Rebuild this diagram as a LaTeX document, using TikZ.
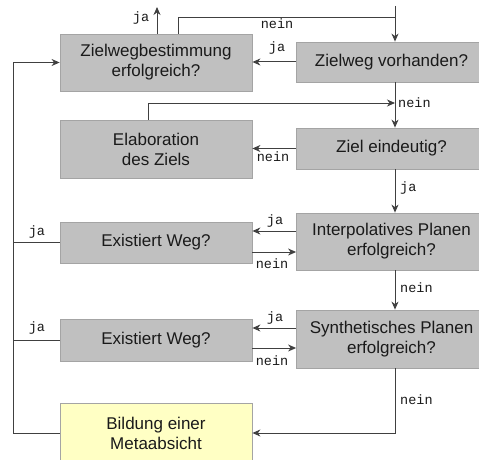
\documentclass[tikz,border=0pt]{standalone}
\usepackage{fontspec}
\setmainfont{Liberation Sans}
\newfontfamily\labelfont{Liberation Mono}
\usetikzlibrary{arrows.meta,calc}
\definecolor{boxgray}{HTML}{C0C0C0}
\definecolor{boxline}{HTML}{A4A4A4}
\definecolor{metayellow}{HTML}{FFFFC4}
\definecolor{wire}{HTML}{404040}
\definecolor{textcol}{HTML}{1A1A1A}

\begin{document}
\begin{tikzpicture}[x=1pt,y=-1pt,
  box/.style={draw=boxline, fill=boxgray, line width=0.8pt, align=center,
    inner sep=0pt, text=textcol, font=\fontsize{17}{20}\selectfont},
  leftbox/.style={box, minimum width=192pt},
  rightbox/.style={box, minimum width=190pt},
  wireline/.style={draw=wire, line width=1pt},
  arr/.style={wireline, -{Stealth[length=8pt,width=7pt,inset=2.5pt]}},
  lab/.style={font=\labelfont\fontsize{13.5}{14}\selectfont, text=textcol, inner sep=0pt}
]
\useasboundingbox (0,0) rectangle (479,460);

% boxes
\node[leftbox, minimum height=57pt] (A) at (156,62.5) {Zielwegbestimmung\\erfolgreich?};
\node[rightbox, minimum height=40pt] (B) at (391.5,62) {Zielweg vorhanden?};
\node[leftbox, minimum height=58pt] (C) at (156,149) {Elaboration\\des Ziels};
\node[rightbox, minimum height=41pt] (D) at (391.5,148.5) {Ziel eindeutig?};
\node[rightbox, minimum height=57pt] (E) at (391.5,241.5) {Interpolatives Planen\\erfolgreich?};
\node[leftbox, minimum height=41pt] (F) at (156,242.5) {Existiert Weg?};
\node[rightbox, minimum height=58pt] (G) at (391.5,339) {Synthetisches Planen\\erfolgreich?};
\node[leftbox, minimum height=42pt] (H) at (156,340) {Existiert Weg?};
\node[leftbox, minimum height=60pt, fill=metayellow] (I) at (156,433) {Bildung einer\\Metaabsicht};

% guide coordinates for the vertical runs
\coordinate (sx) at (395,0);
\coordinate (lx) at (13,0);
\coordinate (entry) at (395,6);
\coordinate (loopback) at (395,18);
\coordinate (jaend) at (157,7);
\coordinate (ax) at (178,0);
\coordinate (cx) at (148,0);
\coordinate (cjoin) at (395,103);

% top: entry and return from Zielwegbestimmung
\draw[arr] (entry) -- (sx |- B.north);
\draw[wireline] (ax |- A.north) |- (loopback);
\draw[arr] (jaend |- A.north) -- (jaend);
\draw[arr] (B.west) -- (B.west -| A.east);

% Zielweg vorhanden? -> Ziel eindeutig?, Elaboration joins in
\draw[arr] (sx |- B.south) -- (sx |- D.north);
\draw[arr] (cx |- C.north) |- (cjoin);
\draw[arr] (D.west) -- (D.west -| C.east);

% Ziel eindeutig? -> Interpolatives Planen
\draw[arr] (sx |- D.south) -- (sx |- E.north);
\draw[arr] ([yshift=10.5pt]E.west) -- ([yshift=10.5pt]E.west -| F.east);
\draw[arr] ([yshift=-9.5pt]F.east) -- ([yshift=-9.5pt]F.east -| E.west);

% Interpolatives -> Synthetisches Planen
\draw[arr] (sx |- E.south) -- (sx |- G.north);
\draw[arr] ([yshift=11pt]G.west) -- ([yshift=11pt]G.west -| H.east);
\draw[arr] ([yshift=-8pt]H.east) -- ([yshift=-8pt]H.east -| G.west);

% Synthetisches Planen -> Metaabsicht
\draw[arr] (sx |- G.south) |- (I.east);

% left return spine
\draw[wireline] (F.west) -- (F.west -| lx);
\draw[wireline] (H.west) -- (H.west -| lx);
\draw[arr] (I.west) -- (I.west -| lx) |- (A.west);

% branch labels
\node[lab] (l1) at (141,18) {ja};
\node[lab] (l2) at (277,24) {nein};
\node[lab] (l3) at (277,48) {ja};
\node[lab, anchor=west] (l4) at (398,103) {nein};
\node[lab] (l5) at (273,157) {nein};
\node[lab, anchor=west] (l6) at (400,188) {ja};
\node[lab] (l7) at (275,221) {ja};
\node[lab] (l8) at (272,264) {nein};
\node[lab] (l9) at (37,232) {ja};
\node[lab, anchor=west] (l10) at (400,288) {nein};
\node[lab] (l11) at (275,318) {ja};
\node[lab] (l12) at (272,361) {nein};
\node[lab] (l13) at (37,328) {ja};
\node[lab, anchor=west] (l14) at (400,400) {nein};
\end{tikzpicture}
\end{document}
